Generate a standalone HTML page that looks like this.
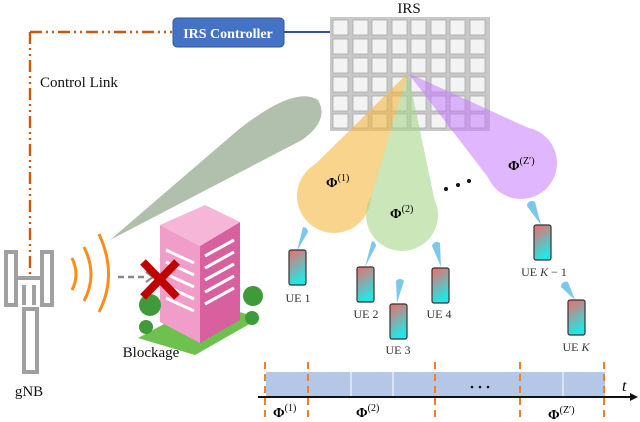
<!DOCTYPE html>
<html><head><meta charset="utf-8"><style>
body{margin:0;background:#fff}
svg{display:block;font-family:"Liberation Serif",serif}
</style></head><body>
<svg width="640" height="422" viewBox="0 0 640 422">
<defs>
<linearGradient id="ph" x1="0" y1="0" x2="0.3" y2="1"><stop offset="0" stop-color="#f46b6b"/><stop offset="1" stop-color="#22e6e6"/></linearGradient>
<g id="phone"><rect x="0" y="0" width="17" height="35" rx="2" fill="url(#ph)" stroke="#333" stroke-width="1.2"/></g>
</defs>
<path d="M30 32 H172 M30 32 V278" stroke="#c55a11" stroke-width="2.4" fill="none" stroke-dasharray="12,4,2,4,2,4"/>
<text x="40" y="87" font-size="15" fill="#111">Control Link</text>
<line x1="284" y1="32" x2="332" y2="32" stroke="#2f5597" stroke-width="2"/>
<rect x="173" y="18" width="111" height="29" rx="4" fill="#4472c4" stroke="#2f5597"/>
<text x="228" y="38" font-size="14" font-weight="bold" fill="#fff" text-anchor="middle">IRS Controller</text>
<text x="409" y="13" font-size="15" text-anchor="middle" fill="#111">IRS</text>
<rect x="330" y="17" width="160" height="114" fill="#c8c8c8"/>
<g fill="#f3f3f3" stroke="#aaa" stroke-width="0.8">
<rect x="333" y="20" width="15" height="15"/><rect x="353" y="20" width="15" height="15"/><rect x="372" y="20" width="15" height="15"/><rect x="392" y="20" width="15" height="15"/><rect x="411" y="20" width="15" height="15"/><rect x="431" y="20" width="15" height="15"/><rect x="450" y="20" width="15" height="15"/><rect x="470" y="20" width="15" height="15"/>
<rect x="333" y="39" width="15" height="15"/><rect x="353" y="39" width="15" height="15"/><rect x="372" y="39" width="15" height="15"/><rect x="392" y="39" width="15" height="15"/><rect x="411" y="39" width="15" height="15"/><rect x="431" y="39" width="15" height="15"/><rect x="450" y="39" width="15" height="15"/><rect x="470" y="39" width="15" height="15"/>
<rect x="333" y="58" width="15" height="15"/><rect x="353" y="58" width="15" height="15"/><rect x="372" y="58" width="15" height="15"/><rect x="392" y="58" width="15" height="15"/><rect x="411" y="58" width="15" height="15"/><rect x="431" y="58" width="15" height="15"/><rect x="450" y="58" width="15" height="15"/><rect x="470" y="58" width="15" height="15"/>
<rect x="333" y="77" width="15" height="15"/><rect x="353" y="77" width="15" height="15"/><rect x="372" y="77" width="15" height="15"/><rect x="392" y="77" width="15" height="15"/><rect x="411" y="77" width="15" height="15"/><rect x="431" y="77" width="15" height="15"/><rect x="450" y="77" width="15" height="15"/><rect x="470" y="77" width="15" height="15"/>
<rect x="333" y="96" width="15" height="15"/><rect x="353" y="96" width="15" height="15"/><rect x="372" y="96" width="15" height="15"/><rect x="392" y="96" width="15" height="15"/><rect x="411" y="96" width="15" height="15"/><rect x="431" y="96" width="15" height="15"/><rect x="450" y="96" width="15" height="15"/><rect x="470" y="96" width="15" height="15"/>
<rect x="333" y="114" width="15" height="14"/><rect x="353" y="114" width="15" height="14"/><rect x="372" y="114" width="15" height="14"/><rect x="392" y="114" width="15" height="14"/><rect x="411" y="114" width="15" height="14"/><rect x="431" y="114" width="15" height="14"/><rect x="450" y="114" width="15" height="14"/><rect x="470" y="114" width="15" height="14"/>
</g>
<path d="M110 240 L238 130 Q295 85 318 100 Q330 120 302 140 Z" fill="#a9b9a3" opacity="0.9"/>
<g opacity="0.6" fill="#f4b942"><path d="M408 73 L365.7 215.1 L302.3 176.9 Z"/><circle cx="334" cy="196" r="37"/></g>
<g opacity="0.6" fill="#a9d68c"><path d="M408 73 L438 216.5 L366 213.5 Z"/><circle cx="402" cy="215" r="36"/></g>
<g opacity="0.55" fill="#c77dff"><path d="M408 73 L498.6 191.2 L543.4 134.8 Z"/><circle cx="521" cy="163" r="36"/></g>
<text x="326" y="187" font-size="14" font-weight="bold">Φ<tspan font-size="10" font-weight="normal" dy="-6">(1)</tspan></text>
<text x="390" y="218" font-size="14" font-weight="bold">Φ<tspan font-size="10" font-weight="normal" dy="-6">(2)</tspan></text>
<text x="508" y="170" font-size="14" font-weight="bold">Φ<tspan font-size="10" font-weight="normal" dy="-6">(Z′)</tspan></text>
<g fill="#111"><circle cx="446" cy="189" r="2"/><circle cx="458" cy="185" r="2"/><circle cx="469" cy="181" r="2"/></g>
<g fill="#7cc8ec">
<path d="M297 251 L303 227 A5 5 0 0 1 308 232 Z"/>
<path d="M365 267 L372 241 A5 5 0 0 1 376 246 Z"/>
<path d="M397 303 L396 281 A5 5 0 0 1 404 281 Z"/>
<path d="M441 267 L432 246 A5 5 0 0 1 440 243 Z"/>
<path d="M541 225 L527 206 A5 5 0 0 1 535 202 Z"/>
<path d="M575 300 L561 287 A5 5 0 0 1 568 282 Z"/>
</g>
<use href="#phone" x="289" y="250"/>
<use href="#phone" x="357" y="267"/>
<use href="#phone" x="390" y="304"/>
<use href="#phone" x="432" y="268"/>
<use href="#phone" x="534" y="225"/>
<use href="#phone" x="568" y="300"/>
<g font-size="12" fill="#333" text-anchor="middle">
<text x="298" y="302">UE 1</text><text x="366" y="318">UE 2</text><text x="398" y="354">UE 3</text><text x="439" y="318">UE 4</text>
<text x="544" y="276">UE <tspan font-style="italic">K</tspan> − 1</text><text x="576" y="351">UE <tspan font-style="italic">K</tspan></text>
</g>
<g fill="none" stroke="#a0a0a0" stroke-width="4">
<rect x="6" y="252" width="10" height="53"/><rect x="42" y="252" width="10" height="53"/>
<rect x="24" y="309" width="13" height="63"/>
<path d="M16 278 H42 M24 285 V305 M34 285 V305"/>
</g>
<text x="29" y="396" font-size="15" text-anchor="middle" fill="#111">gNB</text>
<g fill="none" stroke="#ff8c1a" stroke-width="3">
<path d="M72 258 Q80 275 72 290"/><path d="M84 247 Q98 275 84 301"/><path d="M99 234 Q118 275 99 312"/>
</g>
<path d="M118 277 H148" stroke="#888" stroke-width="2.5" stroke-dasharray="6,4"/>
<path d="M146 272 L153 277 L146 282" fill="none" stroke="#888" stroke-width="2"/>
<path d="M138 338 L195 355 L260 318 L205 302 Z" fill="#6ec04f"/>
<path d="M160 225 L200 246 L200 343 L160 322 Z" fill="#f09dc9"/>
<path d="M200 246 L240 222 L240 320 L200 343 Z" fill="#d9609f"/>
<path d="M160 225 L205 205 L240 222 L200 246 Z" fill="#f6b6d8"/>
<g stroke="#fff" stroke-width="3">
<path d="M166 250 L194 263 M166 262 L194 275 M166 274 L194 287 M166 286 L194 299 M166 298 L194 311"/>
<path d="M205 256 L234 240 M205 268 L234 252 M205 280 L234 264 M205 292 L234 276 M205 304 L234 288"/>
</g>
<g fill="#3f9b3a"><circle cx="150" cy="305" r="11"/><circle cx="146" cy="327" r="7"/><circle cx="253" cy="296" r="10"/><circle cx="252" cy="318" r="7"/></g>
<path d="M143 262 L177 297 M177 262 L143 297" stroke="#c00000" stroke-width="8"/>
<text x="151" y="357" font-size="15" text-anchor="middle" fill="#111">Blockage</text>
<rect x="266" y="372" width="339" height="24" fill="#b4c7e7"/>
<g stroke="#fff" stroke-width="1"><line x1="351" y1="372" x2="351" y2="396"/><line x1="393" y1="372" x2="393" y2="396"/><line x1="563" y1="372" x2="563" y2="396"/></g>
<line x1="258" y1="397" x2="630" y2="397" stroke="#111" stroke-width="2"/>
<path d="M630 393 L638 397 L630 401 Z" fill="#111"/>
<text x="622" y="391" font-size="16" font-style="italic">t</text>
<g stroke="#f07f2a" stroke-width="2" stroke-dasharray="7,5"><line x1="265" y1="362" x2="265" y2="420"/><line x1="308" y1="362" x2="308" y2="420"/><line x1="435" y1="362" x2="435" y2="420"/><line x1="520" y1="362" x2="520" y2="420"/><line x1="604" y1="362" x2="604" y2="420"/></g>
<g fill="#111"><circle cx="472" cy="387" r="1.3"/><circle cx="480" cy="387" r="1.3"/><circle cx="488" cy="387" r="1.3"/></g>
<text x="273" y="417" font-size="14" font-weight="bold">Φ<tspan font-size="10" font-weight="normal" dy="-6">(1)</tspan></text>
<text x="356" y="417" font-size="14" font-weight="bold">Φ<tspan font-size="10" font-weight="normal" dy="-6">(2)</tspan></text>
<text x="548" y="419" font-size="14" font-weight="bold">Φ<tspan font-size="10" font-weight="normal" dy="-6">(Z′)</tspan></text>
</svg>
</body></html>
